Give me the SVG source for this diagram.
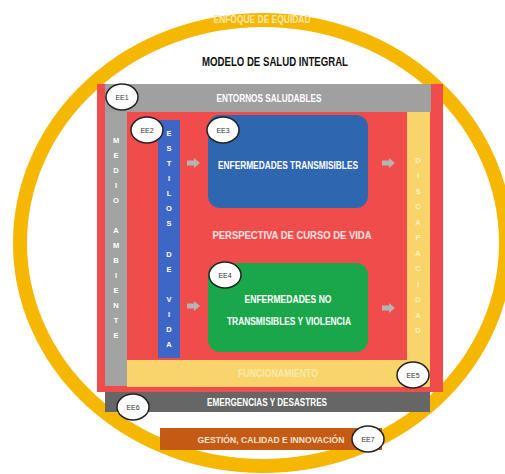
<svg xmlns="http://www.w3.org/2000/svg" width="505" height="474" viewBox="0 0 505 474">
  <defs>
    <style>
      text { font-family: "Liberation Sans", Arial, sans-serif; font-weight: bold; text-anchor: middle; }
      .lbl { font-size: 10px; fill: #ffffff; }
      .pale { font-size: 10px; fill: #fbe9b0; }
      .vert { font-size: 7.5px; fill: #ffffff; }
      .vpale { font-size: 7.5px; fill: #fdf0c8; }
      .tag ellipse { fill: #ffffff; stroke: #222222; stroke-width: 1.5; }
      .tag text { font-size: 7px; fill: #333333; font-weight: normal; }
      .arrow { fill: #b4b4b4; }
    </style>
    <path id="arr" d="M0,-2.5 H7 V-5 L13,0 L7,5 V2.5 H0 Z"/>
  </defs>

  <rect width="505" height="474" fill="#ffffff"/>

  <!-- equity ring -->
  <g id="enfoque">
    <ellipse cx="263" cy="243" rx="243" ry="223" fill="none" stroke="#f6b700" stroke-width="14"/>
    <text x="262" y="23" class="pale" textLength="97" lengthAdjust="spacingAndGlyphs">ENFOQUE DE EQUIDAD</text>
  </g>

  <g id="titulo">
    <text x="275" y="66" font-size="12" fill="#111111" textLength="146" lengthAdjust="spacingAndGlyphs">MODELO DE SALUD INTEGRAL</text>
  </g>

  <!-- outer frame -->
  <g id="marco">
    <rect x="97" y="84" width="346" height="308" fill="#f04c4c"/>
  </g>

  <g id="entornos">
    <rect x="105" y="84" width="326" height="28" fill="#a0a0a0"/>
    <text x="269" y="102" class="lbl" fill="#eeeeee" textLength="105" lengthAdjust="spacingAndGlyphs">ENTORNOS SALUDABLES</text>
  </g>

  <g id="medio-ambiente">
    <rect x="105" y="112" width="22" height="274" fill="#a3a3a3"/>
    <g class="vert">
      <text x="116" y="143">M</text>
      <text x="116" y="158">E</text>
      <text x="116" y="173">D</text>
      <text x="116" y="188">I</text>
      <text x="116" y="203">O</text>
      <text x="116" y="233">A</text>
      <text x="116" y="248">M</text>
      <text x="116" y="263">B</text>
      <text x="116" y="278">I</text>
      <text x="116" y="293">E</text>
      <text x="116" y="308">N</text>
      <text x="116" y="323">T</text>
      <text x="116" y="338">E</text>
    </g>
  </g>

  <g id="funcionamiento">
    <rect x="127" y="360" width="303" height="27" fill="#f9d46a"/>
    <text x="278" y="377" class="pale" textLength="80" lengthAdjust="spacingAndGlyphs">FUNCIONAMIENTO</text>
  </g>

  <g id="discapacidad">
    <rect x="407" y="112" width="23" height="250" fill="#f9d46a"/>
    <g class="vpale">
      <text x="418" y="163">D</text>
      <text x="418" y="178">I</text>
      <text x="418" y="194">S</text>
      <text x="418" y="209">C</text>
      <text x="418" y="225">A</text>
      <text x="418" y="240">P</text>
      <text x="418" y="256">A</text>
      <text x="418" y="271">C</text>
      <text x="418" y="287">I</text>
      <text x="418" y="302">D</text>
      <text x="418" y="318">A</text>
      <text x="418" y="333">D</text>
    </g>
  </g>

  <g id="estilos-de-vida">
    <rect x="158" y="120" width="22" height="238" fill="#3e66c6"/>
    <g class="vert">
      <text x="169" y="136">E</text>
      <text x="169" y="151">S</text>
      <text x="169" y="166">T</text>
      <text x="169" y="181">I</text>
      <text x="169" y="196">L</text>
      <text x="169" y="211">O</text>
      <text x="169" y="226">S</text>
      <text x="169" y="257">D</text>
      <text x="169" y="272">E</text>
      <text x="169" y="302">V</text>
      <text x="169" y="317">I</text>
      <text x="169" y="332">D</text>
      <text x="169" y="347">A</text>
    </g>
  </g>

  <g id="transmisibles">
    <rect x="208" y="115" width="160" height="93" rx="12" fill="#2f66b0"/>
    <text x="288" y="169" class="lbl" textLength="140" lengthAdjust="spacingAndGlyphs">ENFERMEDADES TRANSMISIBLES</text>
  </g>

  <g id="curso-de-vida">
    <text x="292" y="239" font-size="11" fill="#ffe4e4" textLength="159" lengthAdjust="spacingAndGlyphs">PERSPECTIVA DE CURSO DE VIDA</text>
  </g>

  <g id="no-transmisibles">
    <rect x="208" y="263" width="160" height="89" rx="12" fill="#19a74a"/>
    <text x="288" y="303" class="lbl" textLength="87" lengthAdjust="spacingAndGlyphs">ENFERMEDADES NO</text>
    <text x="289" y="325" class="lbl" textLength="124" lengthAdjust="spacingAndGlyphs">TRANSMISIBLES Y VIOLENCIA</text>
  </g>

  <g id="emergencias">
    <rect x="105" y="392" width="325" height="20" fill="#666666"/>
    <text x="267" y="406" class="lbl" fill="#eeeeee" textLength="120" lengthAdjust="spacingAndGlyphs">EMERGENCIAS Y DESASTRES</text>
  </g>

  <g id="gestion">
    <rect x="160" y="428" width="222" height="22" fill="#c45a14"/>
    <text x="271" y="442.5" font-size="9" fill="#f3e3d3" textLength="147" lengthAdjust="spacingAndGlyphs">GESTIÓN, CALIDAD E INNOVACIÓN</text>
  </g>

  <!-- flow arrows -->
  <g id="conectores" class="arrow">
    <use href="#arr" x="187" y="163"/>
    <use href="#arr" x="382" y="163"/>
    <use href="#arr" x="187" y="306"/>
    <use href="#arr" x="382" y="308"/>
  </g>

  <!-- strategy tags -->
  <g id="ee1" class="tag"><ellipse cx="122" cy="97" rx="16" ry="13"/><text x="122" y="100">EE1</text></g>
  <g id="ee2" class="tag"><ellipse cx="147" cy="130" rx="16" ry="13"/><text x="147" y="133">EE2</text></g>
  <g id="ee3" class="tag"><ellipse cx="223" cy="130" rx="16" ry="13"/><text x="223" y="133">EE3</text></g>
  <g id="ee4" class="tag"><ellipse cx="225" cy="275" rx="16" ry="13"/><text x="225" y="278">EE4</text></g>
  <g id="ee5" class="tag"><ellipse cx="413" cy="375" rx="16" ry="13"/><text x="413" y="378">EE5</text></g>
  <g id="ee6" class="tag"><ellipse cx="133" cy="407" rx="16" ry="13"/><text x="133" y="410">EE6</text></g>
  <g id="ee7" class="tag"><ellipse cx="368" cy="439" rx="16" ry="13"/><text x="368" y="442">EE7</text></g>
</svg>
